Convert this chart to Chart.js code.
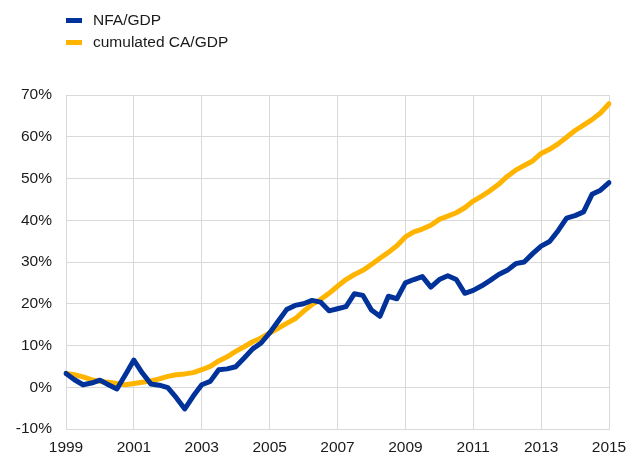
<!DOCTYPE html>
<html>
<head>
<meta charset="utf-8">
<script src="https://cdn.jsdelivr.net/npm/chart.js@4"></script>
<style>
  html, body { margin: 0; padding: 0; background: #fff; }
  #wrap { position: relative; width: 629px; height: 455px; }
  #chart { position: absolute; left: 0; top: 0; }
  .leg { position: absolute; left: 66px; height: 22px; display: flex; align-items: center;
         font-family: "Liberation Sans", Arial, sans-serif; font-size: 15.5px; color: #1a1a1a; }
  .leg i { display: inline-block; width: 16px; height: 5px; margin-right: 11px; }
</style>
</head>
<body>
<div id="wrap">
  <canvas id="chart" width="629" height="455"></canvas>
  <div class="leg" style="top:9px"><i style="background:#003299"></i>NFA/GDP</div>
  <div class="leg" style="top:31px"><i style="background:#ffb400"></i>cumulated CA/GDP</div>
</div>
<script>
// quarterly observations, 1999Q1 .. 2015Q1
const firstYear = 1999;
const lastYear = 2015;
const yTicks = [-10, 0, 10, 20, 30, 40, 50, 60, 70];

const nfaGdp = [
  3.3, 1.8, 0.6, 1.0, 1.7, 0.6, -0.4, 3.0,
  6.5, 3.4, 0.8, 0.5, -0.1, -2.5, -5.2, -2.1,
  0.6, 1.4, 4.2, 4.4, 4.9, 7.0, 9.2, 10.6,
  13.0, 15.8, 18.6, 19.6, 20.0, 20.8, 20.4, 18.3,
  18.8, 19.3, 22.4, 22.0, 18.5, 17.0, 21.8, 21.2,
  25.0, 25.8, 26.5, 24.0, 25.8, 26.7, 25.8, 22.5,
  23.2, 24.3, 25.6, 27.0, 28.0, 29.6, 30.0, 32.0,
  33.8, 34.9, 37.5, 40.5, 41.1, 42.0, 46.2, 47.2,
  49.0
];

const cumCaGdp = [
  3.3, 3.0, 2.5, 1.8, 1.4, 1.2, 0.9, 0.6,
  0.9, 1.2, 1.5, 2.0, 2.6, 3.0, 3.2, 3.5,
  4.2, 5.0, 6.3, 7.3, 8.6, 9.7, 10.9, 11.8,
  13.0, 14.1, 15.3, 16.4, 18.2, 19.8, 21.0, 22.5,
  24.2, 25.8, 27.0, 28.0, 29.4, 30.9, 32.3, 33.9,
  36.0, 37.2, 37.9, 38.8, 40.2, 41.0, 41.8, 43.0,
  44.6, 45.8, 47.1, 48.6, 50.5, 52.0, 53.1, 54.2,
  56.0, 57.0, 58.3, 59.9, 61.5, 62.8, 64.1, 65.7,
  67.9
];

const quarters = [];
for (let y = firstYear; y <= lastYear; y++) {
  for (let q = 1; q <= 4; q++) {
    if (y === lastYear && q > 1) break;
    quarters.push(y + 'Q' + q);
  }
}

const gridColor = '#d9d9d9';
const font = { family: '"Liberation Sans", Arial, sans-serif', size: 15.5 };

new Chart(document.getElementById('chart'), {
  type: 'line',
  data: {
    labels: quarters,
    datasets: [
      {
        label: 'NFA/GDP',
        data: nfaGdp,
        borderColor: '#003299',
        borderWidth: 5,
        pointRadius: 0,
        tension: 0,
        borderJoinStyle: 'round',
        borderCapStyle: 'round'
      },
      {
        label: 'cumulated CA/GDP',
        data: cumCaGdp,
        borderColor: '#ffb400',
        borderWidth: 5,
        pointRadius: 0,
        tension: 0,
        borderJoinStyle: 'round',
        borderCapStyle: 'round'
      }
    ]
  },
  options: {
    responsive: false,
    animation: false,
    layout: { padding: { top: 95, right: 20, left: 0, bottom: 0 } },
    plugins: {
      legend: { display: false },
      tooltip: { enabled: false }
    },
    scales: {
      x: {
        grid: { color: gridColor, drawTicks: false },
        border: { color: gridColor },
        ticks: {
          autoSkip: false,
          maxRotation: 0,
          padding: 9,
          color: '#1a1a1a',
          font: font,
          callback: function (val, i) {
            const lbl = quarters[i];
            return lbl.endsWith('Q1') && (parseInt(lbl) - firstYear) % 2 === 0 ? lbl.slice(0, 4) : null;
          }
        },
        afterFit: function (scale) {
          scale.height = 26;
          scale.paddingLeft = 0;
          scale.paddingRight = 0;
        }
      },
      y: {
        min: yTicks[0],
        max: yTicks[yTicks.length - 1],
        afterBuildTicks: function (scale) {
          scale.ticks = yTicks.map(v => ({ value: v }));
        },
        grid: { color: gridColor, drawTicks: false },
        border: { color: gridColor },
        ticks: {
          padding: 14,
          color: '#1a1a1a',
          font: font,
          callback: v => v + '%'
        },
        afterFit: function (scale) { scale.width = 66; }
      }
    }
  }
});
</script>
</body>
</html>
